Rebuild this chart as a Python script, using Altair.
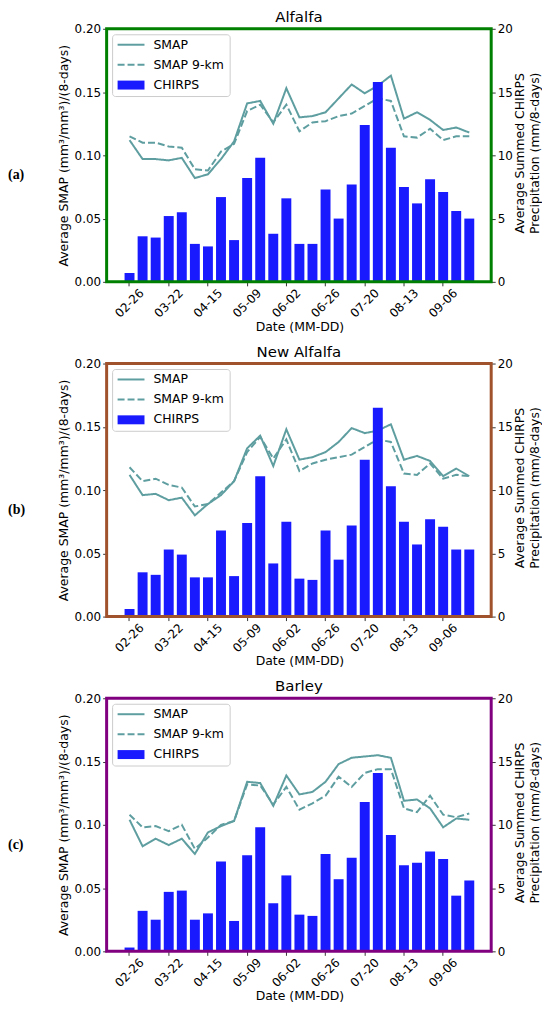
import altair as alt
import pandas as pd

dates = ["02-26", "03-06", "03-14", "03-22", "03-30", "04-07", "04-15", "04-23",
         "05-01", "05-09", "05-17", "05-25", "06-02", "06-10", "06-18", "06-26",
         "07-04", "07-12", "07-20", "07-28", "08-05", "08-13", "08-21", "08-29",
         "09-06", "09-14", "09-22"]
tick_dates = ["02-26", "03-22", "04-15", "05-09", "06-02", "06-26", "07-20", "08-13", "09-06"]
smap_ticks = [0.0, 0.05, 0.10, 0.15, 0.20]
chirps_ticks = [0, 5, 10, 15, 20]
legend_labels = ["SMAP", "SMAP 9-km", "CHIRPS"]
right_title = ["Average Summed CHIRPS", "Precipitation (mm/8-days)"]

# ---- Alfalfa ----
alfalfa_smap = [0.112, 0.097, 0.097, 0.096, 0.098, 0.082, 0.085, 0.097, 0.111,
                0.141, 0.143, 0.125, 0.153, 0.130, 0.131, 0.134, 0.145, 0.156,
                0.149, 0.155, 0.163, 0.129, 0.134, 0.128, 0.120, 0.122, 0.118]
alfalfa_smap9 = [0.115, 0.110, 0.110, 0.107, 0.106, 0.089, 0.088, 0.103, 0.109,
                 0.135, 0.140, 0.126, 0.140, 0.119, 0.126, 0.127, 0.131, 0.133,
                 0.139, 0.145, 0.143, 0.115, 0.114, 0.121, 0.112, 0.115, 0.115]
alfalfa_chirps = [0.7, 3.6, 3.5, 5.2, 5.5, 3.0, 2.8, 6.7, 3.3, 8.2, 9.8, 3.8, 6.6, 3.0,
                  3.0, 7.3, 5.0, 7.7, 12.4, 15.8, 10.6, 7.5, 6.2, 8.1, 7.1, 5.6, 5.0]

# ---- New Alfalfa ----
new_alfalfa_smap = [0.112, 0.096, 0.097, 0.092, 0.094, 0.080, 0.089, 0.096, 0.107,
                    0.133, 0.143, 0.119, 0.148, 0.124, 0.126, 0.130, 0.138, 0.149,
                    0.145, 0.147, 0.152, 0.124, 0.127, 0.123, 0.111, 0.117, 0.111]
new_alfalfa_smap9 = [0.118, 0.107, 0.109, 0.104, 0.102, 0.087, 0.089, 0.098, 0.107,
                     0.130, 0.142, 0.125, 0.140, 0.115, 0.121, 0.124, 0.126, 0.128,
                     0.134, 0.140, 0.138, 0.113, 0.112, 0.121, 0.109, 0.112, 0.111]
new_alfalfa_chirps = [0.6, 3.5, 3.3, 5.3, 4.9, 3.1, 3.1, 6.8, 3.2, 7.4, 11.1, 4.2, 7.5, 3.0,
                      2.9, 6.8, 4.5, 7.2, 12.4, 16.5, 10.3, 7.5, 5.7, 7.7, 7.1, 5.3, 5.3]

# ---- Barley ----
barley_smap = [0.104, 0.083, 0.089, 0.084, 0.089, 0.077, 0.094, 0.099, 0.103,
               0.134, 0.133, 0.115, 0.139, 0.124, 0.126, 0.134, 0.148, 0.153,
               0.154, 0.155, 0.153, 0.119, 0.120, 0.113, 0.098, 0.105, 0.104]
barley_smap9 = [0.108, 0.098, 0.099, 0.095, 0.100, 0.081, 0.090, 0.100, 0.103,
                0.132, 0.131, 0.116, 0.130, 0.112, 0.117, 0.123, 0.138, 0.130,
                0.141, 0.144, 0.144, 0.113, 0.110, 0.123, 0.108, 0.106, 0.109]
barley_chirps = [0.3, 3.2, 2.5, 4.7, 4.8, 2.5, 3.0, 7.1, 2.4, 7.6, 9.8, 3.8, 6.0, 2.9,
                 2.8, 7.7, 5.7, 7.4, 11.8, 14.1, 9.2, 6.8, 7.0, 7.9, 7.3, 4.4, 5.6]

TEAL = "#5f9ea0"
BLUE = "#1a1aff"
FONT = "DejaVu Sans"
W, H = 386, 254

x_scale = alt.Scale(type="band", domain=dates, paddingInner=0.24, paddingOuter=0, range=[18, 369])
x_axis = alt.Axis(values=tick_dates, labelAngle=-45, labelAlign="center",
                  labelBaseline="middle", labelPadding=17, tickSize=4, tickColor="black",
                  domain=False, title="Date (MM-DD)", titlePadding=1, bandPosition=0.5)


def one_row():
    return alt.Data(values=[{"k": 1}])


def panel(title, smap, smap9, chirps, frame_color, label):
    line_df = pd.DataFrame({
        "date": dates * 2,
        "value": smap + smap9,
        "series": [legend_labels[0]] * len(dates) + [legend_labels[1]] * len(dates),
    })
    bar_df = pd.DataFrame({"date": dates, "chirps": chirps})

    lines = alt.Chart(line_df).mark_line(color=TEAL, strokeWidth=2).encode(
        x=alt.X("date:N", sort=dates, scale=x_scale, axis=x_axis),
        y=alt.Y("value:Q", scale=alt.Scale(domain=[0, 0.2]),
                axis=alt.Axis(orient="left", values=smap_ticks, format=".2f",
                              title="Average SMAP (mm³/mm³)/(8-days)",
                              tickSize=4, labelPadding=2, titlePadding=4, domain=False)),
        strokeDash=alt.StrokeDash("series:N",
                                  scale=alt.Scale(domain=legend_labels[:2], range=[[1, 0], [7, 3]]),
                                  legend=None),
        detail="series:N",
    )
    bars = alt.Chart(bar_df).mark_bar(color=BLUE).encode(
        x=alt.X("date:N", sort=dates, scale=x_scale, axis=x_axis),
        y=alt.Y("chirps:Q", scale=alt.Scale(domain=[0, 20]),
                axis=alt.Axis(orient="right", values=chirps_ticks, title=None,
                              tickSize=4, labelPadding=2, domain=False)),
    )

    rt = [
        alt.Chart(one_row()).mark_text(angle=270, align="center", baseline="middle",
                                       fontSize=12.5, font=FONT, color="black").encode(
            x=alt.value(xx), y=alt.value(125), text=alt.value(txt))
        for txt, xx in zip(right_title, [W + 29, W + 44])
    ]

    box = alt.Chart(one_row()).mark_rect(fill="white", fillOpacity=0.8, stroke="#cccccc",
                                         strokeWidth=1, cornerRadius=3).encode(
        x=alt.value(6), x2=alt.value(124), y=alt.value(6), y2=alt.value(68))
    leg_solid = alt.Chart(one_row()).mark_rule(color=TEAL, strokeWidth=2).encode(
        x=alt.value(11), x2=alt.value(38), y=alt.value(16))
    leg_dash = alt.Chart(one_row()).mark_rule(color=TEAL, strokeWidth=2, strokeDash=[7, 3]).encode(
        x=alt.value(11), x2=alt.value(38), y=alt.value(36))
    leg_bar = alt.Chart(one_row()).mark_rect(color=BLUE).encode(
        x=alt.value(11), x2=alt.value(38), y=alt.value(52), y2=alt.value(61))
    leg_texts = [
        alt.Chart(one_row()).mark_text(align="left", baseline="middle", fontSize=12.5,
                                       font=FONT, color="black").encode(
            x=alt.value(47), y=alt.value(yy), text=alt.value(txt))
        for txt, yy in zip(legend_labels, [16, 36, 56])
    ]
    frame = alt.Chart(one_row()).mark_rect(filled=False, stroke=frame_color, strokeWidth=3).encode(
        x=alt.value(0), x2=alt.value(W), y=alt.value(0), y2=alt.value(H))
    tag = alt.Chart(one_row()).mark_text(align="left", baseline="middle", fontSize=14,
                                         font="Liberation Serif", fontWeight="bold",
                                         color="black").encode(
        x=alt.value(-99), y=alt.value(147), text=alt.value(label))

    return alt.layer(lines, bars, box, leg_solid, leg_dash, leg_bar, *leg_texts, frame, tag, *rt).resolve_scale(
        y="independent").properties(
        width=W, height=H,
        title=alt.TitleParams(title, fontSize=15, fontWeight="normal", font=FONT, offset=-2, color="black"))


chart = alt.vconcat(
    panel("Alfalfa", alfalfa_smap, alfalfa_smap9, alfalfa_chirps, "#008000", "(a)"),
    panel("New Alfalfa", new_alfalfa_smap, new_alfalfa_smap9, new_alfalfa_chirps, "#a0522d", "(b)"),
    panel("Barley", barley_smap, barley_smap9, barley_chirps, "#800080", "(c)"),
    spacing=11,
).properties(padding={"left": 0, "top": 0, "right": 0, "bottom": 0}).configure(font=FONT).configure_view(
    stroke=None).configure_axis(
    labelFont=FONT, titleFont=FONT, labelFontSize=12, titleFontSize=12.5, labelColor="black",
    titleColor="black", titleFontWeight="normal", grid=False, tickColor="black", tickWidth=0.8)

chart.save("out.html", embed_options={"renderer": "svg", "actions": False})
